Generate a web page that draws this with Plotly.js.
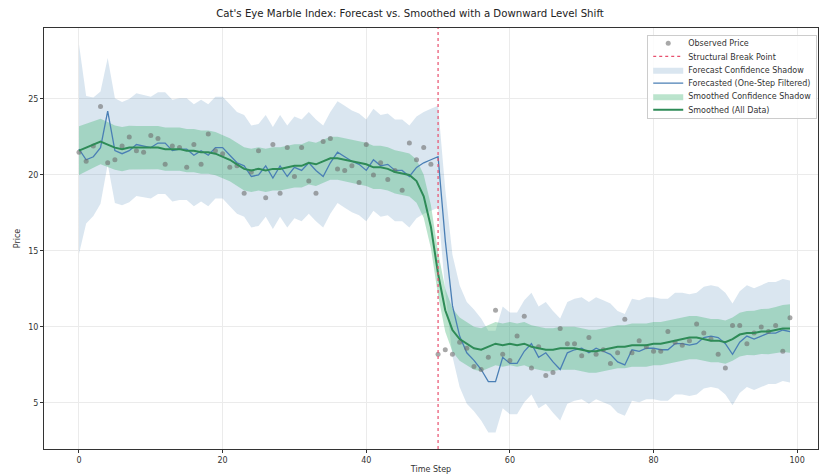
<!DOCTYPE html>
<html>
<head>
<meta charset="utf-8">
<script src="https://cdn.plot.ly/plotly-3.0.1.min.js"></script>
<style>html,body{margin:0;padding:0;background:#fff;}#chart{width:820px;height:476px;}</style>
</head>
<body>
<div id="chart"></div>
<script>
const timeSteps = [0,1,2,3,4,5,6,7,8,9,10,11,12,13,14,15,16,17,18,19,20,21,22,23,24,25,26,27,28,29,30,31,32,33,34,35,36,37,38,39,40,41,42,43,44,45,46,47,48,49,50,51,52,53,54,55,56,57,58,59,60,61,62,63,64,65,66,67,68,69,70,71,72,73,74,75,76,77,78,79,80,81,82,83,84,85,86,87,88,89,90,91,92,93,94,95,96,97,98,99];

const observedPrice = [21.5,20.9,21.9,24.5,20.8,21.0,21.9,22.5,21.6,21.5,22.6,22.4,20.7,21.9,21.8,20.5,22.0,20.7,22.7,21.6,
21.4,20.5,20.6,18.8,20.2,21.6,18.5,22.0,18.8,21.8,19.9,21.8,19.6,18.8,22.2,22.4,20.4,20.3,20.6,19.5,
22.0,20.0,20.8,19.7,20.3,19.0,22.1,21.0,21.8,20.7,8.2,8.5,8.2,9.0,8.6,7.4,7.2,8.0,11.1,8.2,
7.8,9.4,10.7,7.3,8.7,6.8,7.0,9.9,8.9,8.9,8.1,9.3,8.2,8.5,7.6,8.3,10.5,8.3,9.1,8.7,
8.4,8.4,9.7,9.0,8.8,9.1,10.2,9.6,9.2,8.2,7.3,10.1,10.1,8.9,9.6,10.0,9.7,10.1,8.4,10.6];

const forecastFiltered = [21.7,21.0,21.2,21.8,24.2,21.6,21.4,21.6,22.0,21.9,21.8,22.1,22.1,21.6,21.7,21.7,21.3,21.6,21.3,21.8,
21.8,21.3,20.8,20.6,19.9,20.0,20.6,19.8,20.6,19.9,20.5,20.3,20.8,20.3,19.9,20.8,21.5,21.2,20.9,20.7,
20.3,21.0,20.6,20.7,20.3,20.3,19.9,20.5,20.8,21.0,21.2,15.7,11.4,9.4,8.3,7.8,7.2,6.4,6.4,8.0,
7.6,7.6,8.4,8.9,8.0,8.3,7.7,7.2,8.3,8.5,8.6,8.3,8.6,8.4,8.2,7.7,7.5,8.5,8.4,8.6,
8.6,8.5,8.5,8.9,8.9,8.8,8.9,9.3,9.4,9.3,8.9,8.2,9.0,9.4,9.2,9.4,9.6,9.6,9.8,9.7];

const forecastHalfWidth = [6.9,4.2,3.9,3.7,3.5,3.45,3.4,3.4,3.38,3.36,3.35,3.35,3.35,3.35,3.35,3.35,3.35,3.35,3.35,3.35,
3.35,3.35,3.35,3.35,3.35,3.35,3.35,3.35,3.35,3.35,3.35,3.35,3.35,3.35,3.35,3.35,3.35,3.35,3.35,3.35,
3.35,3.35,3.35,3.35,3.35,3.35,3.35,3.35,3.35,3.35,3.35,3.35,3.35,3.35,3.35,3.35,3.35,3.35,3.35,3.35,
3.35,3.35,3.35,3.35,3.35,3.35,3.35,3.35,3.35,3.35,3.35,3.35,3.35,3.35,3.35,3.35,3.35,3.35,3.35,3.35,
3.35,3.35,3.35,3.35,3.35,3.35,3.35,3.35,3.35,3.35,3.35,3.35,3.35,3.35,3.35,3.35,3.35,3.35,3.35,3.35];

const smoothedAll = [21.6,21.8,22.0,22.2,22.0,21.8,21.7,21.8,21.8,21.8,21.8,21.8,21.7,21.7,21.7,21.6,21.6,21.5,21.5,21.4,
21.2,21.0,20.7,20.4,20.3,20.4,20.3,20.4,20.4,20.5,20.6,20.6,20.8,20.7,20.9,21.1,21.1,21.0,20.9,20.8,
20.7,20.5,20.5,20.4,20.2,20.1,20.0,19.6,18.6,16.6,13.5,11.1,9.8,9.2,8.9,8.6,8.5,8.7,8.9,8.8,
8.9,8.8,8.9,8.7,8.6,8.5,8.5,8.6,8.6,8.6,8.5,8.4,8.4,8.5,8.6,8.7,8.7,8.8,8.8,8.8,
8.9,8.9,9.0,9.1,9.2,9.3,9.3,9.2,9.1,9.1,9.0,9.2,9.5,9.6,9.6,9.7,9.7,9.8,9.9,9.9];

const smoothedHalfWidth = [1.6,1.55,1.52,1.5,1.48,1.46,1.45,1.44,1.43,1.42,1.42,1.42,1.42,1.42,1.42,1.42,1.42,1.42,1.42,1.42,
1.42,1.42,1.42,1.42,1.42,1.42,1.42,1.42,1.42,1.42,1.42,1.42,1.42,1.42,1.42,1.42,1.42,1.42,1.42,1.42,
1.42,1.42,1.42,1.42,1.42,1.42,1.42,1.42,1.42,1.42,1.42,1.42,1.42,1.42,1.42,1.42,1.42,1.42,1.42,1.42,
1.42,1.42,1.42,1.42,1.42,1.42,1.42,1.42,1.42,1.42,1.42,1.42,1.42,1.42,1.42,1.42,1.42,1.42,1.42,1.42,
1.42,1.42,1.42,1.42,1.42,1.42,1.42,1.42,1.42,1.42,1.42,1.43,1.44,1.45,1.46,1.48,1.5,1.52,1.55,1.6];

const breakPoint = 50;
const xTicks = [0,20,40,60,80,100];
const yTicks = [5,10,15,20,25];

function bandPolygon(center, half) {
  const xs = timeSteps.concat(timeSteps.slice().reverse());
  const up = center.map((c, i) => c + half[i]);
  const lo = center.map((c, i) => c - half[i]).reverse();
  return {x: xs, y: up.concat(lo)};
}

const fBand = bandPolygon(forecastFiltered, forecastHalfWidth);
const sBand = bandPolygon(smoothedAll, smoothedHalfWidth);

const traces = [
  {x: fBand.x, y: fBand.y, type: 'scatter', mode: 'lines', fill: 'toself',
   fillcolor: 'rgba(70,130,180,0.2)', line: {width: 0, color: 'rgba(0,0,0,0)'},
   name: 'Forecast Confidence Shadow', legendrank: 3, hoverinfo: 'skip'},
  {x: sBand.x, y: sBand.y, type: 'scatter', mode: 'lines', fill: 'toself',
   fillcolor: 'rgba(60,179,113,0.35)', line: {width: 0, color: 'rgba(0,0,0,0)'},
   name: 'Smoothed Confidence Shadow', legendrank: 5, hoverinfo: 'skip'},
  {x: timeSteps, y: forecastFiltered, type: 'scatter', mode: 'lines',
   line: {color: '#4a7fb5', width: 1.3}, name: 'Forecasted (One-Step Filtered)', legendrank: 4},
  {x: timeSteps, y: observedPrice, type: 'scatter', mode: 'markers',
   marker: {color: 'rgba(110,110,110,0.6)', size: 5}, name: 'Observed Price', legendrank: 1},
  {x: timeSteps, y: smoothedAll, type: 'scatter', mode: 'lines',
   line: {color: '#2e8b57', width: 2}, name: 'Smoothed (All Data)', legendrank: 6}
];

const layout = {
  width: 820, height: 476,
  margin: {l: 44, r: 2, t: 28, b: 27},
  paper_bgcolor: '#fff', plot_bgcolor: '#fff',
  font: {family: 'DejaVu Sans, sans-serif', size: 8, color: '#333'},
  title: {text: "Cat's Eye Marble Index: Forecast vs. Smoothed with a Downward Level Shift",
          font: {size: 10.2, color: '#222'}, x: 0.5, xanchor: 'center', y: 0.972, yanchor: 'middle', yref: 'container'},
  xaxis: {range: [-4.87, 102.9], tickvals: xTicks, ticks: 'outside', ticklen: 3, tickcolor: '#333',
          showline: true, linecolor: '#333', linewidth: 1, mirror: true,
          showgrid: true, gridcolor: '#ebebeb', gridwidth: 1, zeroline: false,
          title: {text: 'Time Step', font: {size: 8}, standoff: 2}, automargin: false},
  yaxis: {range: [1.97, 29.67], tickvals: yTicks, ticks: 'outside', ticklen: 3, tickcolor: '#333',
          showline: true, linecolor: '#333', linewidth: 1, mirror: true,
          showgrid: true, gridcolor: '#ebebeb', gridwidth: 1, zeroline: false,
          title: {text: 'Price', font: {size: 8}, standoff: 6}, automargin: false},
  legend: {x: 0.999, xanchor: 'right', y: 0.983, yanchor: 'top',
           bgcolor: 'rgba(255,255,255,0.85)', bordercolor: '#cccccc', borderwidth: 1,
           font: {size: 8, color: '#333'}, tracegroupgap: 0, itemwidth: 30},
  shapes: [{type: 'line', xref: 'x', yref: 'paper', x0: breakPoint, x1: breakPoint, y0: 0, y1: 1,
            line: {color: '#e8506e', width: 1.2, dash: 'dot'},
            showlegend: true, name: 'Structural Break Point', legendrank: 2}],
  showlegend: true
};

Plotly.newPlot('chart', traces, layout, {displayModeBar: false, staticPlot: true}).then(function (gd) {
  // tighten legend row spacing to match the compact reference legend
  const leg = gd.querySelector('.legend');
  if (!leg) return;
  const items = leg.querySelectorAll('g.traces');
  const step = 13.3, first = 8;
  items.forEach(function (it, i) {
    const tr = it.getAttribute('transform') || '';
    const m = tr.match(/translate\(\s*([-\d.]+)[ ,]+([-\d.]+)\s*\)/);
    const x = m ? parseFloat(m[1]) : 0;
    it.setAttribute('transform', 'translate(' + x + ',' + (first + i * step) + ')');
  });
  const h = first * 2 + (items.length - 1) * step;
  leg.querySelectorAll('rect.bg').forEach(function (r) { r.setAttribute('height', h); });
  const clip = gd.querySelectorAll('clipPath[id*="legend"] rect');
  clip.forEach(function (r) { r.setAttribute('height', h); });
});
</script>
</body>
</html>
